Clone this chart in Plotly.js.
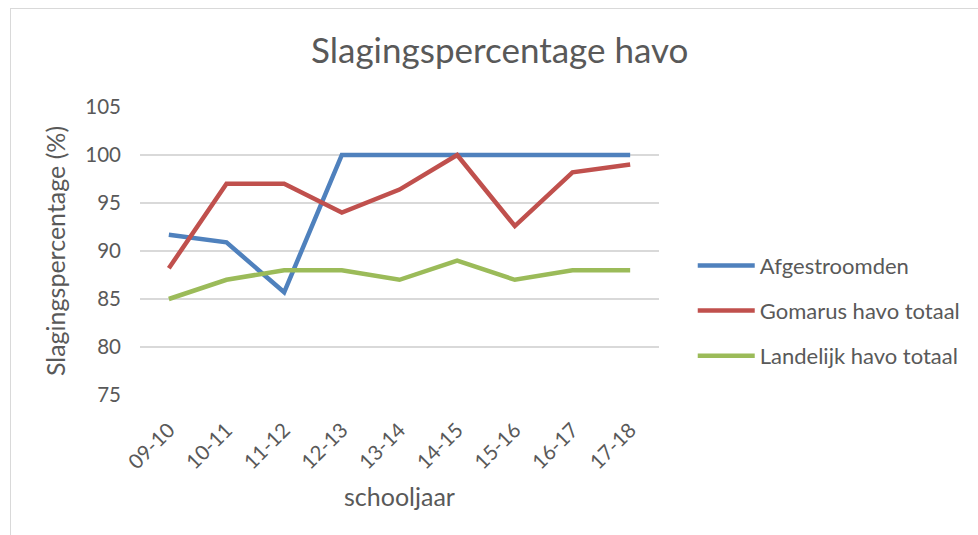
<!DOCTYPE html>
<html><head><meta charset="utf-8">
<script src="https://cdn.plot.ly/plotly-3.0.1.min.js"></script>
<style>
html,body{margin:0;padding:0;background:#fff;}
#frame{position:absolute;left:10px;top:8px;width:990px;height:540px;border:1px solid #d9d9d9;}
#chart{position:absolute;left:0;top:0;width:978px;height:535px;}
</style></head><body>
<div id="frame"></div>
<div id="chart"></div>
<script>
const categories = ['09-10','10-11','11-12','12-13','13-14','14-15','15-16','16-17','17-18'];
const afgestroomden = [91.7, 90.9, 85.7, 100, 100, 100, 100, 100, 100];
const gomarus = [88.2, 97.0, 97.0, 94.0, 96.4, 100, 92.6, 98.2, 99.0];
const landelijk = [85, 87, 88, 88, 87, 89, 87, 88, 88];
const seriesNames = ['Afgestroomden','Gomarus havo totaal','Landelijk havo totaal'];
const colors = ['#4F81BD','#C0504D','#9BBB59'];
const font = 'Lato, "Open Sans", sans-serif';
const data = [afgestroomden, gomarus, landelijk].map((v,i)=>({
  x: categories, y: v, type:'scatter', mode:'lines', name: seriesNames[i],
  legendgroup: 'g'+i,
  line:{color:colors[i], width:4.5}
}));
const layout = {
  width:978, height:535,
  margin:{l:140, r:315, t:107, b:140},
  paper_bgcolor:'rgba(0,0,0,0)', plot_bgcolor:'rgba(0,0,0,0)',
  font:{family:font, color:'#595959', size:18},
  title:{text:'Slagingspercentage havo', font:{family:font, size:35, color:'#595959'}, x:0.511, xanchor:'center', y:0.905, yanchor:'middle'},
  xaxis:{type:'category', range:[-0.5,8.5], tickangle:-45, showgrid:false, zeroline:false,
    showline:false, ticks:'', ticklabelstandoff:18, tickfont:{size:20.5, color:'#595959'},
    title:{text:'schooljaar', font:{size:25, color:'#595959'}, standoff:16}},
  yaxis:{range:[75,105], dtick:5, tick0:75, showgrid:true, gridcolor:'#d9d9d9', gridwidth:1.3,
    zeroline:false, showline:false, ticks:'', ticklabelstandoff:18, tickfont:{size:20.5, color:'#595959'},
    title:{text:'Slagingspercentage (%)', font:{size:25, color:'#595959'}, standoff:12}},
  legend:{x:1.065, xanchor:'left', y:0.522, yanchor:'top', font:{size:22, color:'#595959'},
    tracegroupgap:13.5, itemwidth:57, bgcolor:'rgba(0,0,0,0)'},
  showlegend:true
};
Plotly.newPlot('chart', data, layout, {displayModeBar:false, staticPlot:true});
</script>
</body></html>
